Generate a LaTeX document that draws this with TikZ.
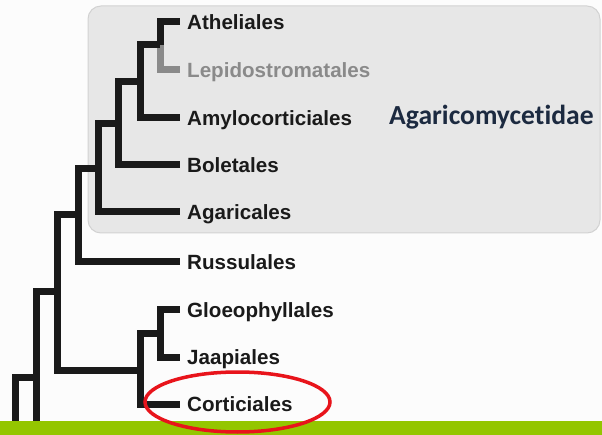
\documentclass[tikz,border=0pt]{standalone}
\usepackage{fontspec}
\setmainfont{Liberation Sans}
\newfontfamily\titlefont[Ligatures=NoCommon]{Carlito}
\definecolor{treeblack}{HTML}{1A1A1A}
\definecolor{treegray}{HTML}{8A8A8A}
\definecolor{boxfill}{HTML}{E7E7E7}
\definecolor{boxline}{HTML}{D2D2D2}
\definecolor{navy}{HTML}{1C2A40}
\definecolor{barGreen}{HTML}{94C600}
\definecolor{ringRed}{HTML}{E8141B}
\tikzset{
  branch/.style={draw=treeblack, line width=7pt},
  graybranch/.style={draw=treegray, line width=7pt},
  leaf/.style={anchor=west, inner xsep=7pt, inner ysep=0pt, text height=14.5pt, text depth=0pt,
    font=\fontsize{20.6}{22}\selectfont\bfseries, text=treeblack},
}
\begin{document}
\begin{tikzpicture}[x=1pt,y=-1pt]
\useasboundingbox (0,0) rectangle (602,435);
\fill[white!99!black] (0,0) rectangle (602,435);
% Agaricomycetidae box
\draw[fill=boxfill, draw=boxline, line width=1pt, rounded corners=13pt] (88,6) rectangle (600,233);
\node[font=\titlefont\fontsize{27.6}{30}\selectfont\bfseries, text=navy, anchor=west, inner sep=0pt] (title) at (389,117) {Agaricomycetidae};
% leaves
\node[leaf] (ath) at (180,22) {Atheliales};
\node[leaf, text=treegray] (lep) at (180,70) {Lepidostromatales};
\node[leaf] (amy) at (180,118) {Amylocorticiales};
\node[leaf] (bol) at (180,165) {Boletales};
\node[leaf] (aga) at (180,212) {Agaricales};
\node[leaf] (rus) at (180,262) {Russulales};
\node[leaf] (glo) at (180,310) {Gloeophyllales};
\node[leaf] (jaa) at (180,357) {Jaapiales};
\node[leaf] (cor) at (180,404) {Corticiales};
% internal nodes
\coordinate (nAL) at (160,45);
\coordinate (nA2) at (140,82);
\coordinate (nA3) at (118,124);
\coordinate (nA4) at (98,169);
\coordinate (nA5) at (78,215);
\coordinate (nG1) at (160,334);
\coordinate (nG2) at (140,370);
\coordinate (nB) at (57,292);
\coordinate (nC) at (36,377);
\coordinate (nCdown) at (36,436);
\coordinate (nD) at (15,436);
% branches
\path[graybranch] (nAL) |- (lep.west);
\path[branch] (nAL) |- (ath.west);
\path[branch] (nA2) |- (nAL);
\path[branch] (nA2) |- (amy.west);
\path[branch] (nA3) |- (nA2);
\path[branch] (nA3) |- (bol.west);
\path[branch] (nA4) |- (nA3);
\path[branch] (nA4) |- (aga.west);
\path[branch] (nA5) |- (nA4);
\path[branch] (nA5) |- (rus.west);
\path[branch] (nG1) |- (glo.west);
\path[branch] (nG1) |- (jaa.west);
\path[branch] (nG2) |- (nG1);
\path[branch] (nG2) |- (cor.west);
\path[branch] (nB) |- (nA5);
\path[branch] (nB) |- (nG2);
\path[branch] (nC) |- (nB);
\path[branch] (nC) -- (nCdown);
\path[branch] (nD) |- (nC);
% green bar
\fill[barGreen] (0,421) rectangle (602,435);
% red ring
\draw[ringRed, line width=3.5pt] (237.5,402) ellipse [x radius=92.5, y radius=30];
\end{tikzpicture}
\end{document}
